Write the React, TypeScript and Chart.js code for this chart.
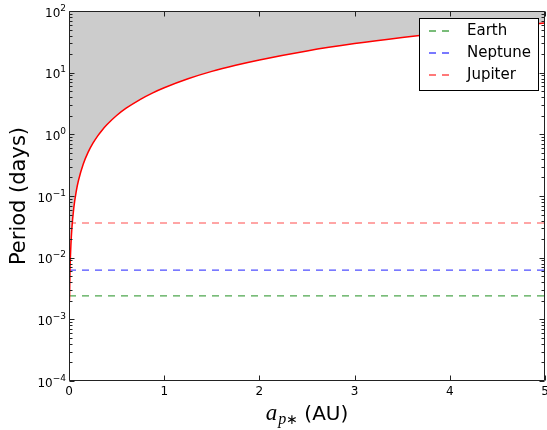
import React, { useEffect, useRef } from 'react';
import { Chart, registerables } from 'chart.js';

Chart.register(...registerables);

// Red curve: orbital period versus a_p*
const semiMajorAxis = [0.005, 0.01, 0.015, 0.02, 0.03, 0.05, 0.075, 0.1, 0.15, 0.2, 0.25, 0.3, 0.35, 0.4, 0.5, 0.6, 0.75, 0.875, 1, 1.25, 1.5, 1.75, 2, 2.5, 3, 3.5, 4, 4.5, 5];
const periodDays = [0.00202, 0.0057, 0.0105, 0.0161, 0.0296, 0.0637, 0.117, 0.18, 0.331, 0.51, 0.712, 0.937, 1.18, 1.44, 2.02, 2.65, 3.7, 4.67, 5.7, 7.97, 10.5, 13.2, 16.1, 22.5, 29.6, 37.3, 45.6, 54.4, 63.7];

// Horizontal reference lines
const planetNames = ['Earth', 'Neptune', 'Jupiter'];
const planetPeriods = [0.0024, 0.0063, 0.0365];
const planetColors = ['rgba(0,128,0,0.7)', 'rgba(0,0,255,0.7)', 'rgba(255,0,0,0.7)'];

// Axes
const xRange = [0, 5];
const xTickValues = [0, 1, 2, 3, 4, 5];
const xTickLabels = ['0', '1', '2', '3', '4', '5'];
const yRange = [1e-4, 1e2];
const yTickValues = [1e-4, 1e-3, 1e-2, 1e-1, 1e0, 1e1, 1e2];
const yTickBase = '10';
const yTickExponents = ['\u22124', '\u22123', '\u22122', '\u22121', '0', '1', '2'];
const yTitle = 'Period (days)';

const FONT = '"DejaVu Sans", sans-serif';
const DASH = [7, 6];

const frameTicksPlugin = {
  id: 'frameTicks',
  afterDatasetsDraw(chart: any) {
    const { ctx, chartArea, scales } = chart;
    const { left, right, top, bottom } = chartArea;
    const xs = scales.x;
    const ys = scales.y;
    ctx.save();
    ctx.strokeStyle = '#222';
    ctx.lineWidth = 1;
    const L = Math.round(left) + 0.5;
    const R = Math.round(right) - 0.5;
    const T = Math.round(top) + 0.5;
    const B = Math.round(bottom) - 0.5;
    ctx.beginPath();
    ctx.rect(L, T, R - L, B - T);
    ctx.stroke();
    ctx.beginPath();
    const major = 5;
    const minor = 3;
    xTickValues.forEach((v) => {
      const px = Math.round(xs.getPixelForValue(v)) + 0.5;
      ctx.moveTo(px, B);
      ctx.lineTo(px, B - major);
      ctx.moveTo(px, T);
      ctx.lineTo(px, T + major);
    });
    for (let i = 0; i < yTickValues.length; i++) {
      const v = yTickValues[i];
      const py = Math.round(ys.getPixelForValue(v)) + 0.5;
      ctx.moveTo(L, py);
      ctx.lineTo(L + major, py);
      ctx.moveTo(R, py);
      ctx.lineTo(R - major, py);
      if (i < yTickValues.length - 1) {
        for (let k = 2; k <= 9; k++) {
          const pm = Math.round(ys.getPixelForValue(v * k)) + 0.5;
          ctx.moveTo(L, pm);
          ctx.lineTo(L + minor, pm);
          ctx.moveTo(R, pm);
          ctx.lineTo(R - minor, pm);
        }
      }
    }
    ctx.stroke();

    // y tick labels as 10 with a raised exponent
    ctx.fillStyle = '#000';
    ctx.textAlign = 'left';
    ctx.textBaseline = 'alphabetic';
    const fBase = `12px ${FONT}`;
    const fExp = `9px ${FONT}`;
    yTickValues.forEach((v, i) => {
      const py = ys.getPixelForValue(v);
      ctx.font = fExp;
      const we = ctx.measureText(yTickExponents[i]).width;
      ctx.font = fBase;
      const wb = ctx.measureText(yTickBase).width;
      const xr = left - 3;
      const xb = xr - we - wb;
      ctx.fillText(yTickBase, xb, py + 5.5);
      ctx.font = fExp;
      ctx.fillText(yTickExponents[i], xb + wb, py - 0.5);
    });
    ctx.restore();
  },
};

const legendPlugin = {
  id: 'boxLegend',
  afterDraw(chart: any) {
    const { ctx, chartArea } = chart;
    const w = 119;
    const h = 72;
    const x0 = Math.round(chartArea.right) - 7 - w;
    const y0 = Math.round(chartArea.top) + 7;
    ctx.save();
    ctx.fillStyle = '#fff';
    ctx.fillRect(x0, y0, w, h);
    ctx.strokeStyle = '#000';
    ctx.lineWidth = 1;
    ctx.strokeRect(x0 + 0.5, y0 + 0.5, w, h);
    ctx.font = `15px ${FONT}`;
    ctx.textBaseline = 'middle';
    ctx.textAlign = 'left';
    planetNames.forEach((name, i) => {
      const yy = y0 + 13 + i * 22;
      ctx.strokeStyle = planetColors[i];
      ctx.lineWidth = 1.5;
      ctx.setLineDash(DASH);
      ctx.beginPath();
      ctx.moveTo(x0 + 10, yy);
      ctx.lineTo(x0 + 31, yy);
      ctx.stroke();
      ctx.setLineDash([]);
      ctx.fillStyle = '#000';
      ctx.fillText(name, x0 + 48, yy);
    });
    ctx.restore();
  },
};

const xTitlePlugin = {
  id: 'xTitle',
  afterDraw(chart: any) {
    const { ctx, chartArea } = chart;
    ctx.save();
    ctx.fillStyle = '#000';
    ctx.textBaseline = 'alphabetic';
    ctx.textAlign = 'left';
    const fA = 'italic 23px "Liberation Serif", serif';
    const fP = 'italic 16px "Liberation Serif", serif';
    const fS = '14px "DejaVu Sans", sans-serif';
    const fU = `20px ${FONT}`;
    ctx.font = fA;
    const wA = ctx.measureText('a').width;
    ctx.font = fP;
    const wP = ctx.measureText('p').width;
    ctx.font = fS;
    const wS = ctx.measureText('\u2217').width;
    ctx.font = fU;
    const wU = ctx.measureText(' (AU)').width;
    const total = wA + 1 + wP + wS + wU;
    let x = (chartArea.left + chartArea.right) / 2 - total / 2;
    const base = chart.height - 10;
    ctx.font = fA;
    ctx.fillText('a', x, base);
    x += wA + 1;
    ctx.font = fP;
    ctx.fillText('p', x, base + 4);
    x += wP;
    ctx.font = fS;
    ctx.fillText('\u2217', x, base + 4);
    x += wS;
    ctx.font = fU;
    ctx.fillText(' (AU)', x, base);
    ctx.restore();
  },
};

export default function App() {
  const ref = useRef<HTMLCanvasElement>(null);
  useEffect(() => {
    document.body.style.margin = '0';
    const curve = semiMajorAxis.map((x, i) => ({ x, y: periodDays[i] }));
    const lines = planetNames.map((name, i) => ({
      label: name,
      data: [
        { x: xRange[0], y: planetPeriods[i] },
        { x: xRange[1], y: planetPeriods[i] },
      ],
      borderColor: planetColors[i],
      borderWidth: 1.2,
      borderDash: DASH,
      pointRadius: 0,
      fill: false,
    }));
    const chart = new Chart(ref.current as HTMLCanvasElement, {
      type: 'line',
      data: {
        datasets: [
          {
            label: 'limit',
            data: curve,
            borderColor: '#ff0000',
            borderWidth: 1.5,
            pointRadius: 0,
            fill: 'end',
            backgroundColor: '#cccccc',
            cubicInterpolationMode: 'monotone',
          } as any,
          ...lines,
        ],
      },
      options: {
        responsive: false,
        animation: false,
        parsing: false as any,
        layout: { padding: { left: 0, right: 2, top: 11, bottom: 0 } },
        plugins: {
          legend: { display: false },
          tooltip: { enabled: false },
        },
        scales: {
          x: {
            type: 'linear',
            min: xRange[0],
            max: xRange[1],
            afterBuildTicks: (s: any) => {
              s.ticks = xTickValues.map((v) => ({ value: v }));
            },
            afterFit: (s: any) => {
              s.height = 49;
              s.paddingLeft = 0;
              s.paddingRight = 0;
            },
            ticks: {
              callback: (_v: any, i: number) => xTickLabels[i],
              font: { family: FONT, size: 12 },
              color: '#000',
              padding: 4,
              maxRotation: 0,
              autoSkip: false,
            },
            grid: { display: false, drawTicks: false },
            border: { display: false },
          },
          y: {
            type: 'logarithmic',
            min: yRange[0],
            max: yRange[1],
            afterBuildTicks: (s: any) => {
              s.ticks = yTickValues.map((v) => ({ value: v }));
            },
            afterFit: (s: any) => {
              s.width = 69;
              s.paddingTop = 0;
              s.paddingBottom = 0;
            },
            ticks: { display: false },
            grid: { display: false, drawTicks: false },
            border: { display: false },
            title: {
              display: true,
              text: yTitle,
              font: { family: FONT, size: 21 },
              color: '#000',
              padding: { top: 7, bottom: 0 },
            },
          },
        },
      },
      plugins: [frameTicksPlugin, legendPlugin, xTitlePlugin],
    } as any);
    return () => chart.destroy();
  }, []);
  return (
    <div style={{ width: 547, height: 430 }}>
      <canvas ref={ref} width={547} height={430} style={{ display: 'block' }} />
    </div>
  );
}
